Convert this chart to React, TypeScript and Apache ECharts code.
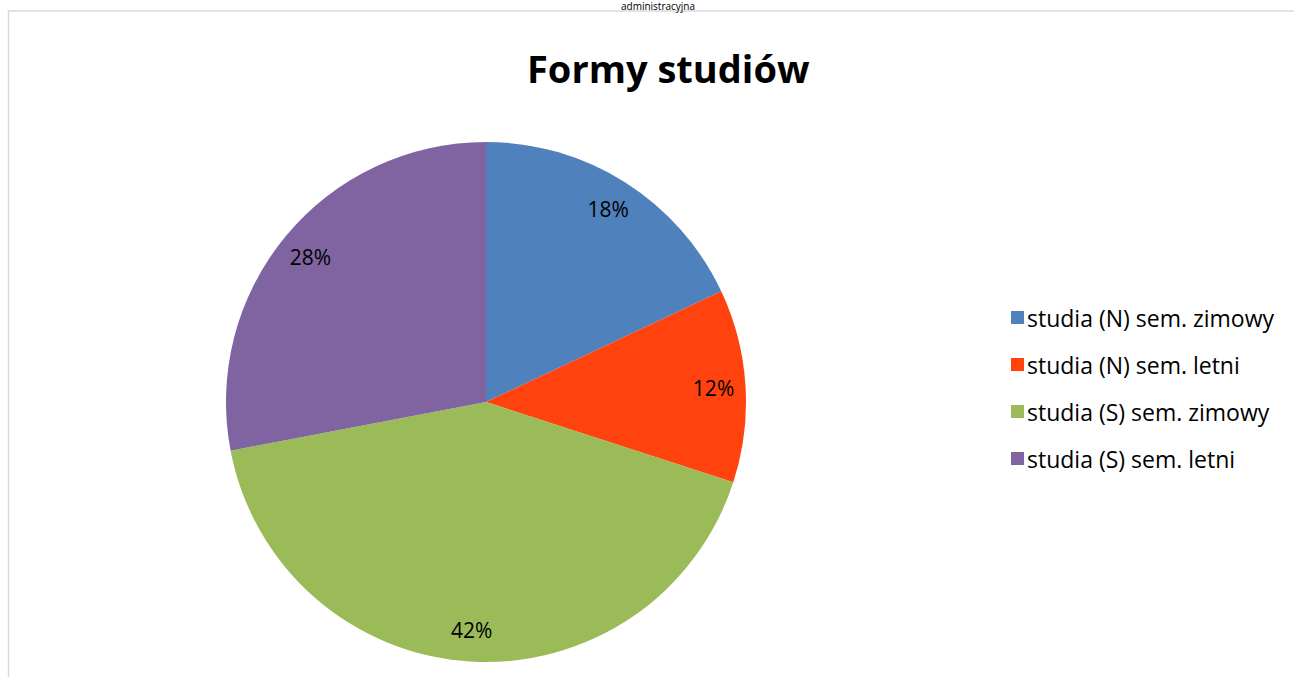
import React, { useEffect, useRef } from "react";
import * as echarts from "echarts";

const categories = [
  "studia (N) sem. zimowy",
  "studia (N) sem. letni",
  "studia (S) sem. zimowy",
  "studia (S) sem. letni",
];
const values = [18, 12, 42, 28];
const colors = ["#4F81BD", "#FF420E", "#9BBB59", "#8064A2"];
const titleText = "Formy studiów";
const topText = "administracyjna";

const FONT = "'Open Sans', 'Noto Sans', sans-serif";

export default function App() {
  const ref = useRef<HTMLDivElement>(null);
  useEffect(() => {
    if (!ref.current) return;
    const chart = echarts.init(ref.current, null, { renderer: "svg" });
    const data = categories.map((name, i) => ({
      name,
      value: values[i],
      itemStyle: { color: colors[i] },
    }));
    chart.setOption({
      animation: false,
      backgroundColor: "#ffffff",
      title: {
        text: titleText,
        left: 522,
        top: 44,
        textStyle: { fontFamily: FONT, fontSize: 38, fontWeight: "bold", color: "#000" },
      },
      legend: {
        orient: "vertical",
        left: 1006,
        top: 301,
        itemWidth: 13,
        itemHeight: 13,
        itemGap: 24,
        icon: "rect",
        textStyle: { fontFamily: FONT, fontSize: 23, color: "#000", padding: [0, 0, 0, -2] },
        data: categories,
      },
      graphic: [
        {
          type: "rect",
          shape: { x: 8.5, y: 11, width: 1400, height: 1000 },
          style: { fill: "none", stroke: "#d9d9d9", lineWidth: 1.5 },
          silent: true,
        },
        {
          type: "text",
          x: 658,
          y: 1,
          style: {
            text: topText,
            fontFamily: FONT,
            fontSize: 10,
            lineHeight: 10,
            fill: "#000",
            align: "center",
            verticalAlign: "top",
          },
          silent: true,
        },
      ],
      series: [
        {
          type: "pie",
          center: [486, 402],
          radius: [0, 260],
          startAngle: 90,
          clockwise: true,
          label: { show: false },
          labelLine: { show: false },
          emphasis: { disabled: true },
          data,
        },
        {
          type: "pie",
          center: [486, 402],
          radius: [190, 260],
          startAngle: 90,
          clockwise: true,
          silent: true,
          itemStyle: { color: "rgba(0,0,0,0)" },
          label: {
            show: true,
            position: "inside",
            formatter: (p: any) => Math.round(p.percent) + "%",
            fontFamily: FONT,
            fontSize: 21,
            color: "#000",
          },
          labelLine: { show: false },
          emphasis: { disabled: true },
          data: categories.map((name, i) => ({ name, value: values[i] })),
        },
      ],
    });
    return () => chart.dispose();
  }, []);
  return (
    <div
      ref={ref}
      style={{ position: "fixed", left: 0, top: 0, width: 1294, height: 677 }}
    />
  );
}
